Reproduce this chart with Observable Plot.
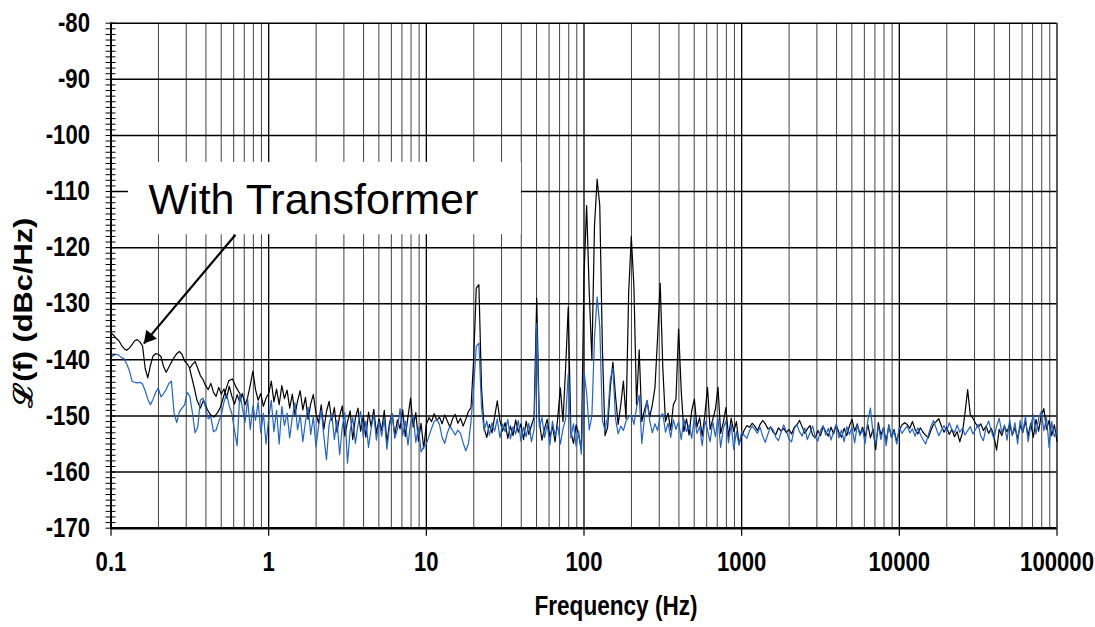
<!DOCTYPE html>
<html>
<head>
<meta charset="utf-8">
<script src="https://cdn.jsdelivr.net/npm/d3@7"></script>
<script src="https://cdn.jsdelivr.net/npm/@observablehq/plot@0.6"></script>
<style>
  html, body { margin: 0; padding: 0; background: #fff; }
  #chart svg { display: block; }
</style>
</head>
<body>
<div id="chart"></div>
<script>
// Phase-noise spectra L(f) in dBc/Hz, sampled on a log-frequency grid
// (60 bins per decade, each decade in its own array).
const pointsPerDecade = 60;
const decadeStarts = [0.1, 1, 10, 100, 1000, 10000];

// With transformer (black trace)
const black01 = [-135.2,-135.6,-136.2,-136.6,-137.4,-138.0,-138.3,-137.9,-137.3,-136.6,
  -136.4,-136.8,-137.5,-141.5,-143.2,-141.0,-139.3,-138.9,-139.0,-139.4,
  -141.2,-142.2,-141.3,-140.4,-139.6,-138.9,-138.5,-139.0,-140.2,-140.7,
  -141.5,-140.8,-140.3,-141.5,-142.8,-143.5,-144.6,-145.3,-144.2,-145.8,
  -146.5,-144.9,-146.1,-145.2,-146.8,-144.7,-146.5,-147.9,-146.2,-147.5,
  -146.0,-148.0,-146.7,-144.5,-142.0,-145.3,-147.2,-146.0,-148.3,-146.8];
const black1 = [-146.0,-143.8,-147.5,-145.2,-148.0,-144.6,-146.9,-145.4,-148.6,-146.1,
  -149.8,-147.3,-145.5,-148.9,-146.7,-150.6,-147.8,-146.2,-149.5,-151.3,
  -148.0,-152.4,-149.2,-147.4,-150.8,-148.5,-152.9,-150.0,-148.2,-153.6,
  -151.0,-149.1,-154.2,-150.4,-148.6,-152.7,-150.0,-153.8,-149.3,-151.9,
  -148.8,-153.1,-150.5,-152.6,-149.0,-154.8,-151.2,-149.6,-153.4,-150.7,
  -152.3,-148.9,-153.7,-150.2,-146.8,-152.0,-149.4,-154.5,-151.3,-155.8];
const black10 = [-151.5,-150.3,-151.0,-149.6,-150.8,-150.2,-151.4,-149.8,-150.9,-152.0,
  -150.5,-149.7,-151.3,-150.4,-151.8,-150.6,-149.2,-148.5,-140.0,-127.2,
  -126.6,-145.0,-152.2,-153.8,-151.5,-153.0,-150.1,-147.3,-150.8,-152.7,
  -151.2,-154.0,-151.8,-153.5,-150.7,-152.9,-151.4,-154.2,-150.9,-153.3,
  -151.7,-150.2,-129.0,-151.0,-154.3,-152.2,-150.6,-153.7,-151.9,-154.6,
  -150.4,-145.0,-151.0,-141.5,-130.6,-152.8,-154.9,-151.6,-153.4,-156.0];
const black100 = [-125.0,-112.5,-128.0,-140.0,-116.0,-107.8,-112.5,-138.0,-153.5,-152.0,
  -145.0,-140.4,-146.5,-151.5,-148.0,-143.8,-150.5,-128.0,-118.0,-127.0,
  -148.0,-138.2,-151.0,-149.0,-147.3,-150.2,-148.0,-145.0,-136.0,-126.3,
  -141.5,-151.0,-149.5,-152.5,-148.0,-147.0,-134.5,-145.5,-152.8,-150.5,
  -153.4,-149.0,-147.0,-152.0,-150.3,-153.6,-149.8,-144.9,-152.4,-150.6,
  -148.8,-144.9,-153.1,-151.2,-148.5,-153.7,-150.4,-152.8,-151.0,-155.0];
const black1k = [-153.6,-152.5,-151.7,-152.0,-151.3,-151.8,-152.6,-151.5,-150.8,-151.4,
  -152.3,-152.0,-152.9,-153.3,-152.1,-152.7,-152.2,-153.0,-152.4,-153.2,
  -152.0,-151.6,-150.8,-151.9,-153.1,-152.3,-151.7,-153.4,-153.9,-152.6,
  -153.5,-151.9,-152.8,-153.6,-152.0,-153.2,-151.6,-152.9,-153.8,-152.2,
  -153.5,-151.8,-150.6,-152.7,-151.4,-153.3,-152.0,-153.7,-151.5,-153.9,
  -152.3,-156.0,-151.2,-153.4,-152.1,-154.5,-151.7,-153.8,-152.4,-154.6];
const black10k = [-152.5,-151.6,-151.2,-151.5,-152.2,-151.0,-152.4,-153.2,-152.1,-152.9,
  -153.4,-153.9,-152.6,-151.5,-151.0,-150.5,-151.8,-152.9,-152.0,-153.3,
  -152.4,-153.7,-152.8,-154.6,-153.0,-149.5,-145.3,-149.8,-150.4,-151.3,
  -152.0,-151.4,-152.6,-151.8,-153.1,-152.2,-153.6,-156.1,-152.4,-153.5,
  -151.9,-152.8,-151.5,-153.4,-152.1,-154.0,-151.7,-152.9,-150.9,-153.6,
  -151.3,-153.8,-150.6,-152.7,-149.9,-148.7,-152.4,-150.8,-153.5,-151.6,-154.5];

// Tail of the lowest-frequency span, overlapping the next span
const blackTailFreq = [0.315,0.333,0.352,0.369,0.386,0.409,0.428,0.449,0.474,0.495,0.525,0.559,0.589,0.625,0.671];
const blackTailDb = [-141.5,-144.3,-147.3,-148.6,-147.2,-148.9,-149.8,-150.2,-149.4,-148.4,-146.0,-143.7,-143.4,-145.0,-146.5];

// Without transformer (blue trace)
const blue01 = [-139.5,-139.2,-139.0,-139.2,-139.6,-139.8,-140.8,-141.9,-143.8,-144.0,
  -144.1,-144.0,-144.3,-145.5,-147.0,-148.0,-147.0,-145.8,-145.0,-146.6,
  -146.0,-145.3,-144.2,-143.8,-149.5,-151.2,-149.3,-148.6,-148.0,-145.8,
  -146.5,-149.5,-153.0,-152.0,-147.2,-146.8,-148.5,-150.5,-150.2,-152.8,
  -152.5,-151.0,-149.8,-147.5,-146.1,-148.2,-149.6,-152.6,-155.3,-146.0,
  -148.5,-151.2,-147.0,-152.4,-148.2,-150.8,-147.5,-153.0,-149.5,-155.0];
const blue1 = [-150.5,-147.2,-152.8,-149.0,-155.0,-148.3,-151.7,-149.5,-153.9,-150.2,
  -147.6,-152.5,-149.8,-154.6,-151.0,-148.4,-153.3,-150.1,-155.5,-151.8,
  -149.0,-153.6,-157.8,-151.5,-149.7,-154.2,-150.8,-156.9,-152.0,-149.4,
  -158.4,-152.7,-150.3,-154.9,-151.6,-149.2,-153.8,-150.9,-155.6,-152.2,
  -149.8,-154.3,-151.0,-153.6,-150.4,-155.9,-151.8,-149.6,-154.0,-152.4,
  -148.7,-153.5,-150.9,-155.2,-151.3,-149.9,-154.7,-152.0,-156.4,-155.5];
const blue10 = [-155.0,-153.6,-152.2,-151.0,-150.6,-151.5,-153.8,-154.9,-153.0,-151.8,
  -152.6,-153.4,-152.5,-153.1,-154.8,-156.2,-155.0,-151.0,-145.0,-137.6,
  -137.0,-148.5,-152.6,-150.9,-153.4,-151.2,-152.7,-150.5,-153.9,-151.4,
  -152.8,-150.6,-154.1,-151.9,-153.2,-150.8,-154.5,-152.0,-153.7,-151.3,
  -154.6,-152.4,-133.5,-152.0,-150.3,-153.8,-151.5,-155.2,-150.9,-153.6,
  -151.8,-155.0,-152.3,-150.5,-142.5,-153.9,-151.4,-155.4,-152.7,-156.8];
const blue100 = [-142.0,-146.0,-152.5,-150.0,-136.0,-128.8,-134.0,-150.8,-152.5,-150.2,
  -143.5,-141.5,-150.5,-153.2,-151.8,-152.6,-150.9,-150.2,-149.8,-151.5,
  -148.5,-146.3,-154.9,-150.4,-147.2,-150.8,-153.0,-151.4,-152.6,-150.0,
  -149.6,-152.9,-151.3,-153.8,-150.7,-152.4,-151.0,-154.2,-150.5,-152.8,
  -151.6,-154.0,-150.2,-153.1,-151.9,-155.3,-150.8,-152.5,-154.6,-151.0,
  -153.7,-150.4,-155.6,-152.2,-150.9,-154.8,-151.5,-156.0,-152.8,-155.2];
const blue1k = [-152.8,-153.5,-154.0,-152.6,-151.8,-152.4,-153.1,-152.0,-153.6,-154.7,
  -153.2,-151.9,-152.5,-153.8,-154.4,-152.9,-151.6,-152.7,-154.1,-154.6,
  -152.3,-151.5,-152.8,-153.6,-152.1,-154.2,-153.0,-151.8,-153.7,-154.5,
  -152.6,-151.7,-153.4,-152.2,-154.3,-152.8,-151.4,-153.9,-152.5,-154.6,
  -151.9,-153.3,-152.0,-154.8,-151.6,-153.5,-152.4,-154.9,-150.8,-148.6,
  -153.2,-155.0,-151.8,-154.2,-152.0,-155.3,-151.5,-153.9,-152.7,-155.0];
const blue10k = [-152.0,-153.1,-152.4,-151.8,-153.0,-152.3,-153.6,-152.1,-153.3,-154.2,
  -155.0,-153.4,-151.9,-150.8,-152.2,-153.5,-152.6,-151.7,-152.8,-151.2,
  -152.4,-153.0,-151.6,-152.9,-152.2,-153.4,-152.6,-151.9,-153.2,-152.4,
  -151.5,-153.6,-154.4,-152.0,-150.9,-152.7,-154.1,-151.8,-150.4,-153.0,
  -151.6,-154.3,-150.6,-153.5,-151.2,-155.0,-150.8,-152.9,-150.1,-154.6,
  -151.7,-149.8,-153.2,-150.5,-149.2,-152.6,-150.3,-155.6,-151.0,-153.7,-152.5];

// Axis ticks
const yMajorTicks = [-170,-160,-150,-140,-130,-120,-110,-100,-90,-80];
const yMinorTicks = d3.range(-170, -79, 1);
const xDecadeTicks = [0.1, 1, 10, 100, 1000, 10000, 100000];
const xMinorTicks = xDecadeTicks.slice(0, -1).flatMap(d => [2,3,4,5,6,7,8,9].map(m => +(m * d).toPrecision(3)));
const xTickLabels = ["0.1", "1", "10", "100", "1000", "10000", "100000"];
const yTickLabels = yMajorTicks.map(String);
const xTitle = "Frequency (Hz)";
const yTitle = "ℒ(f) (dBc/Hz)";

// Annotation: label box and arrow pointing at the black trace
const annotationText = ["With Transformer"];
const annotationBox = [{f1: 0.129, f2: 40.1, db1: -104.8, db2: -117.7}];
const annotationAnchor = {f: 0.173, db: -111.5};
const arrowFrom = {f: 0.616, db: -117.7};
const arrowTo = {f: 0.1615, db: -137.1};

function spectrumRows(decades) {
  const rows = [];
  decades.forEach((values, d) => values.forEach((db, j) =>
    rows.push({f: decadeStarts[d] * Math.pow(10, j / pointsPerDecade), db})));
  return rows;
}
const blackRows = spectrumRows([black01, black1, black10, black100, black1k, black10k]);
const blueRows = spectrumRows([blue01, blue1, blue10, blue100, blue1k, blue10k]);
const blackTailRows = blackTailFreq.map((f, i) => ({f, db: blackTailDb[i]}));

const W = 1095, H = 627;
const margin = {top: 22.7, right: 38.5, bottom: 99.3, left: 110.5};
const xDomain = [0.1, 100000], yDomain = [-170, -80];
const font = "'Liberation Sans', Arial, Helvetica, sans-serif";

// Arrowhead orientation from the same scales the plot uses
const sx = Plot.scale({x: {type: "log", domain: xDomain, range: [margin.left, W - margin.right]}});
const sy = Plot.scale({y: {type: "linear", domain: yDomain, range: [H - margin.bottom, margin.top]}});
const ax0 = sx.apply(arrowFrom.f), ay0 = sy.apply(arrowFrom.db);
const ax1 = sx.apply(arrowTo.f), ay1 = sy.apply(arrowTo.db);
const ang = Math.atan2(ay1 - ay0, ax1 - ax0);
const headR = 5.2;
const headHalf = Math.sqrt(Math.PI * headR * headR / (Math.sqrt(3) * 3));
const headDx = -Math.cos(ang) * 2 * headHalf, headDy = -Math.sin(ang) * 2 * headHalf;

const tickFontSize = 27;

const chart = Plot.plot({
  width: W, height: H,
  marginTop: margin.top, marginRight: margin.right, marginBottom: margin.bottom, marginLeft: margin.left,
  style: {fontFamily: font, background: "#fff", color: "#000"},
  x: {type: "log", domain: xDomain},
  y: {type: "linear", domain: yDomain},
  marks: [
    Plot.gridX({ticks: xMinorTicks, stroke: "#222", strokeOpacity: 1, strokeWidth: 0.85}),
    Plot.gridX({ticks: xDecadeTicks, stroke: "#000", strokeOpacity: 1, strokeWidth: 1.3}),
    Plot.gridY({ticks: yMajorTicks, stroke: "#000", strokeOpacity: 1, strokeWidth: 1.5}),
    Plot.rect(annotationBox, {x1: "f1", x2: "f2", y1: "db1", y2: "db2", fill: "#fff"}),
    Plot.line(blackRows, {x: "f", y: "db", stroke: "#000", strokeWidth: 1.2}),
    Plot.line(blackTailRows, {x: "f", y: "db", stroke: "#000", strokeWidth: 1.2}),
    Plot.line(blueRows, {x: "f", y: "db", stroke: "#1f62d2", strokeWidth: 1.2}),
    Plot.link([0], {x1: () => arrowFrom.f, y1: () => arrowFrom.db, x2: () => arrowTo.f, y2: () => arrowTo.db, stroke: "#000", strokeWidth: 2.2}),
    Plot.dot([arrowTo], {x: "f", y: "db", symbol: "triangle", r: headR, fill: "#000", stroke: "none",
      rotate: ang * 180 / Math.PI + 90, dx: headDx, dy: headDy}),
    Plot.text(annotationText, {x: () => annotationAnchor.f, y: () => annotationAnchor.db, text: d => d,
      textAnchor: "start", lineAnchor: "middle", fontSize: 43, fill: "#000"}),
    Plot.ruleX([0.1], {stroke: "#000", strokeWidth: 2}),
    Plot.ruleY([-170], {stroke: "#000", strokeWidth: 2.5}),
    Plot.axisY({ticks: yMinorTicks, tickSize: 10, dx: 5, tickFormat: () => "", label: null, strokeWidth: 1}),
    Plot.axisY({ticks: yMajorTicks, tickSize: 0, tickPadding: 21,
      tickFormat: d => yTickLabels[yMajorTicks.indexOf(d)] ?? String(d), label: null,
      fontSize: tickFontSize, fontWeight: "bold"}),
    Plot.axisX({ticks: xDecadeTicks, tickSize: 8, tickPadding: 16,
      tickFormat: d => xTickLabels[xDecadeTicks.indexOf(d)] ?? String(d), label: null,
      fontSize: tickFontSize, fontWeight: "bold", strokeWidth: 1.2}),
    Plot.text([xTitle], {frameAnchor: "bottom", textAnchor: "middle", dx: 32, dy: 78, lineAnchor: "middle",
      fontSize: 27, fontWeight: "bold", fill: "#000"}),
    Plot.text([yTitle], {frameAnchor: "left", textAnchor: "middle", rotate: -90, dx: -87, dy: 37, lineAnchor: "middle",
      fontSize: 26, fontWeight: "bold", fill: "#000"})
  ]
});

document.getElementById("chart").appendChild(chart);

// Narrow bold lettering: fix each label's advance width to narrow-face metrics
const narrowEm = {"-": 0.273, "\u2212": 0.273, ".": 0.228};
const narrowWidth = (s, size) => [...s].reduce((w, c) => w + (narrowEm[c] ?? 0.456), 0) * size;
const titleLengths = new Map([[xTitle, 163], [yTitle, 190]]);
function fitLength(el, len) {
  el.setAttribute("textLength", len.toFixed(1));
  el.setAttribute("lengthAdjust", "spacingAndGlyphs");
}
chart.querySelectorAll("text, tspan").forEach(t => {
  const s = t.textContent.trim();
  if (!s) return;
  if (/^[-\u2212]?[\d.]+$/.test(s)) fitLength(t, narrowWidth(s, tickFontSize));
  else if (titleLengths.has(s)) fitLength(t, titleLengths.get(s));
});
</script>
</body>
</html>
